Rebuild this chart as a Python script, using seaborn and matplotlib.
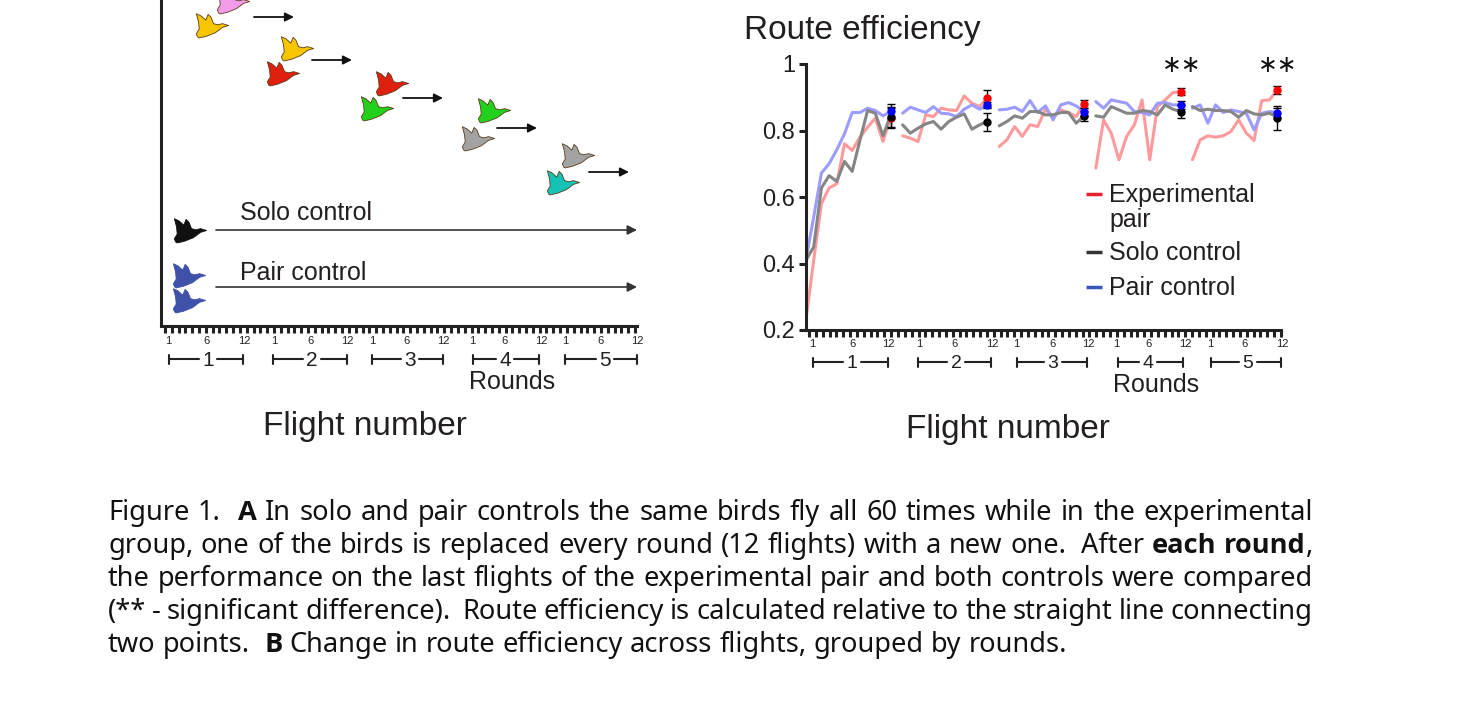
import numpy as np
import pandas as pd
import matplotlib
matplotlib.use("Agg")
import matplotlib.pyplot as plt
import seaborn as sns
from matplotlib.path import Path
from matplotlib.markers import MarkerStyle
from matplotlib import font_manager as fm

# ---------------- data ----------------
flights = list(range(1, 13))
rounds = [1, 2, 3, 4, 5]
groups = ["Experimental pair", "Solo control", "Pair control"]

exp_r1 = [0.232, 0.41, 0.58, 0.627, 0.64, 0.76, 0.74, 0.78, 0.81, 0.837, 0.767, 0.84]
exp_r2 = [0.784, 0.777, 0.767, 0.847, 0.842, 0.867, 0.862, 0.86, 0.904, 0.882, 0.872, 0.897]
exp_r3 = [0.752, 0.772, 0.812, 0.782, 0.817, 0.812, 0.864, 0.842, 0.862, 0.854, 0.842, 0.88]
exp_r4 = [0.687, 0.832, 0.792, 0.712, 0.782, 0.817, 0.892, 0.712, 0.872, 0.892, 0.914, 0.917]
exp_r5 = [0.712, 0.772, 0.784, 0.78, 0.784, 0.797, 0.832, 0.792, 0.77, 0.89, 0.892, 0.922]

solo_r1 = [0.41, 0.45, 0.627, 0.664, 0.647, 0.707, 0.677, 0.77, 0.86, 0.852, 0.784, 0.847]
solo_r2 = [0.817, 0.792, 0.807, 0.82, 0.827, 0.804, 0.827, 0.84, 0.85, 0.804, 0.817, 0.827]
solo_r3 = [0.814, 0.827, 0.844, 0.837, 0.857, 0.857, 0.847, 0.847, 0.854, 0.854, 0.822, 0.844]
solo_r4 = [0.844, 0.84, 0.872, 0.862, 0.852, 0.852, 0.86, 0.857, 0.847, 0.877, 0.864, 0.857]
solo_r5 = [0.872, 0.86, 0.864, 0.86, 0.86, 0.857, 0.84, 0.86, 0.85, 0.847, 0.852, 0.84]

pair_r1 = [0.412, 0.54, 0.672, 0.70, 0.742, 0.79, 0.854, 0.854, 0.867, 0.86, 0.844, 0.857]
pair_r2 = [0.852, 0.87, 0.862, 0.854, 0.872, 0.852, 0.85, 0.842, 0.864, 0.877, 0.864, 0.877]
pair_r3 = [0.862, 0.864, 0.87, 0.857, 0.89, 0.854, 0.874, 0.832, 0.877, 0.884, 0.874, 0.857]
pair_r4 = [0.887, 0.867, 0.892, 0.887, 0.882, 0.857, 0.854, 0.847, 0.882, 0.884, 0.877, 0.877]
pair_r5 = [0.867, 0.877, 0.822, 0.877, 0.854, 0.862, 0.857, 0.852, 0.802, 0.852, 0.857, 0.854]

# end-of-round comparison (mean +- error)
exp_end = [0.838, 0.897, 0.88, 0.917, 0.922]
solo_end = [0.842, 0.827, 0.844, 0.857, 0.838]
pair_end = [0.859, 0.877, 0.857, 0.877, 0.854]
exp_err = [0.03, 0.025, 0.012, 0.01, 0.012]
solo_err = [0.03, 0.027, 0.015, 0.02, 0.035]
pair_err = [0.02, 0.01, 0.012, 0.012, 0.015]
signif = [False, False, False, True, True]

legend_labels = ["Experimental\npair", "Solo control", "Pair control"]
flight_tick_labels = ["1", "6", "12"]

# schematic (panel A): bird icons
bird_colors = ["#f29be8", "#f7c600", "#f7c600", "#e0200f", "#e0200f", "#22d11b",
               "#22d11b", "#a3a3a3", "#a3a3a3", "#14c2b8", "#111111", "#3f51a8", "#3f51a8"]

# ---------------- layout ----------------
W, H, DPI = 1460, 702, 100
ROUND_STEP = 12.55          # x offset between rounds (flight units)
TXT = "#231f20"
sns.set_style("ticks")
plt.rcParams["font.family"] = ["Liberation Sans", "DejaVu Sans"]

fig = plt.figure(figsize=(W / DPI, H / DPI), dpi=DPI)

def frac_rect(x0, y0, x1, y1):
    return [x0 / W, 1 - y1 / H, (x1 - x0) / W, (y1 - y0) / H]

# ---------------- panel B: route efficiency ----------------
series = {"Experimental pair": [exp_r1, exp_r2, exp_r3, exp_r4, exp_r5],
          "Solo control": [solo_r1, solo_r2, solo_r3, solo_r4, solo_r5],
          "Pair control": [pair_r1, pair_r2, pair_r3, pair_r4, pair_r5]}
rows = []
for g in groups:
    for r, vals in zip(rounds, series[g]):
        for f, v in zip(flights, vals):
            rows.append({"group": g, "round": r, "flight": f,
                         "x": (r - 1) * ROUND_STEP + (f - 1), "v": v})
df = pd.DataFrame(rows)

ax = fig.add_axes(frac_rect(806, 64, 1281, 330))
line_pal = {"Experimental pair": "#ff9a9c", "Solo control": "#858585", "Pair control": "#9c9cff"}
for g in ["Experimental pair", "Pair control", "Solo control"]:
    sns.lineplot(data=df[df.group == g], x="x", y="v", units="round", estimator=None,
                 color=line_pal[g], lw=2.2, legend=False, ax=ax)

end_x = [(r - 1) * ROUND_STEP + 11 for r in rounds]
for vals, errs, col in [(exp_end, exp_err, "#ff0000"), (solo_end, solo_err, "#000000"),
                        (pair_end, pair_err, "#0000ff")]:
    ax.errorbar(end_x, vals, yerr=errs, fmt="o", color=col, ms=5, ecolor="black",
                elinewidth=1.0, capsize=3, capthick=1.0, zorder=5)
for xx, s in zip(end_x, signif):
    if s:
        ax.text(xx + 0.1, 0.997, "\u2217\u2217", ha="center", va="center", fontsize=17,
                family="DejaVu Sans", color="#111111", clip_on=False)

ax.set_xlim(0, 61.7)
ax.set_ylim(0.2, 1.0)
ax.set_yticks([0.2, 0.4, 0.6, 0.8, 1.0])
ax.set_yticklabels(["0.2", "0.4", "0.6", "0.8", "1"])
ax.set_xticks(np.linspace(0.4, 61.7, 70))
ax.set_xticklabels([])
ax.set_xlabel("")
ax.set_ylabel("")
for sp in ["top", "right"]:
    ax.spines[sp].set_visible(False)
for sp in ["left", "bottom"]:
    ax.spines[sp].set_linewidth(2.2)
    ax.spines[sp].set_color("#222222")
ax.tick_params(axis="y", length=5, width=2.2, labelsize=17, colors="#222222",
               labelcolor=TXT, pad=3)
ax.tick_params(axis="x", length=5, width=2.2, colors="#222222")
ax.patch.set_alpha(0)

# ---------------- panel A: schematic ----------------
axl = fig.add_axes(frac_rect(161, -10, 637, 326))
axl.set_xlim(161, 637)
axl.set_ylim(326, -10)
for sp in ["top", "right"]:
    axl.spines[sp].set_visible(False)
for sp in ["left", "bottom"]:
    axl.spines[sp].set_linewidth(2.2)
    axl.spines[sp].set_color("#222222")
axl.set_yticks([])
axl.set_xticks(np.linspace(165, 635, 70))
axl.set_xticklabels([])
axl.tick_params(axis="x", length=5, width=2.2, colors="#222222")
axl.patch.set_alpha(0)

bird_verts = [(-0.89, -0.68), (-0.96, -0.49), (-0.79, -0.21), (-0.83, 0.21), (-0.96, 0.70),
              (-0.68, 0.57), (-0.40, 0.32), (-0.26, 0.66), (-0.09, 0.49), (0.06, 0.11),
              (0.32, 0.04), (0.60, 0.11), (0.96, 0.0), (0.60, -0.11), (0.17, -0.43),
              (-0.36, -0.64), (-0.79, -0.74), (-0.89, -0.68)]
bird_marker = MarkerStyle(Path(bird_verts, closed=True))
bird_x = [233, 212, 297, 283, 392, 377, 494, 478, 578, 563, 190, 189, 189]
bird_y = [1, 25, 48, 73, 83, 108, 110, 138, 155, 182, 230, 275, 300]
for bx, by, bc in zip(bird_x, bird_y, bird_colors):
    axl.scatter([bx], [by], s=540, marker=bird_marker, color=bc,
                edgecolor="#5a3a1a" if bc not in ("#111111", "#3f51a8") else bc,
                linewidth=0.6, zorder=3, clip_on=False)

short_arrow_x = [254, 312, 403, 497, 589]
short_arrow_y = [17, 60, 98, 128, 172]
for x0, y0 in zip(short_arrow_x, short_arrow_y):
    axl.annotate("", xy=(x0 + 40, y0), xytext=(x0, y0),
                 arrowprops=dict(arrowstyle="-|>", color="#111111", lw=1.3,
                                 mutation_scale=13, shrinkA=0, shrinkB=0))
for yy, lab, ty in [(230, "Solo control", 220), (287, "Pair control", 280)]:
    axl.annotate("", xy=(637, yy), xytext=(216, yy),
                 arrowprops=dict(arrowstyle="-|>", color="#333333", lw=1.2,
                                 mutation_scale=14, shrinkA=0, shrinkB=0),
                 annotation_clip=False)
    axl.text(240, ty, lab, fontsize=18, color=TXT, va="baseline", ha="left")

# ---------------- overlay for annotations ----------------
ov = fig.add_axes([0, 0, 1, 1], zorder=10)
ov.set_xlim(0, W)
ov.set_ylim(H, 0)
ov.axis("off")
ov.patch.set_alpha(0)

# title
ov.text(744, 39, "Route efficiency", fontsize=24, color=TXT, va="baseline", ha="left")

# manual legend
leg_cols = ["#e8202a", "#333333", "#3a55b8"]
leg_y = [194, 252, 287]
for lab, col, yy in zip(legend_labels, leg_cols, leg_y):
    ov.plot([1086, 1102], [yy, yy], color=col, lw=2.5, solid_capstyle="butt")
lab_lines = [("Experimental", 202), ("pair", 227), ("Solo control", 260), ("Pair control", 295)]
for t, yb in lab_lines:
    ov.text(1109, yb, t, fontsize=18, color=TXT, va="baseline", ha="left")

# flight-number tick labels and round brackets
left_tick_x = [[168, 207, 244], [274, 311, 347], [372, 407, 443], [472, 504, 541], [565, 601, 637]]
right_tick_x = [[812, 852, 888], [919, 955, 992], [1016, 1052, 1088], [1116, 1148, 1185], [1210, 1245, 1282]]
left_br = [(169, 243, 208), (273, 347, 312), (372, 443, 410), (473, 539, 505), (565, 637, 605)]
right_br = [(813, 888, 852), (918, 991, 956), (1017, 1087, 1053), (1118, 1183, 1148), (1211, 1281, 1248)]

def brackets(tick_xs, brs, tick_base, br_y, num_size):
    for r, xs, (b0, b1, bl) in zip(rounds, tick_xs, brs):
        for xx, lab in zip(xs, flight_tick_labels):
            ov.text(xx, tick_base, lab, fontsize=8, color=TXT, ha="center", va="baseline")
        g = 9
        for s0, s1 in [(b0, bl - g), (bl + g, b1)]:
            ov.plot([s0, s1], [br_y, br_y], color="#222222", lw=1.5)
        for cx in (b0, b1):
            ov.plot([cx, cx], [br_y - 4.5, br_y + 4.5], color="#222222", lw=1.5)
        ov.text(bl, br_y, str(r), fontsize=num_size, color=TXT, ha="center", va="center_baseline")

brackets(left_tick_x, left_br, 344, 359, 15)
brackets(right_tick_x, right_br, 347, 362, 14)

ov.text(512, 389, "Rounds", fontsize=18, color=TXT, ha="center", va="baseline")
ov.text(1156, 392, "Rounds", fontsize=18, color=TXT, ha="center", va="baseline")
ov.text(365, 435, "Flight number", fontsize=24, color=TXT, ha="center", va="baseline")
ov.text(1008, 438, "Flight number", fontsize=24, color=TXT, ha="center", va="baseline")

# ---------------- caption ----------------
caption_lines = [
    ("Figure 1.  |A| In solo and pair controls the same birds fly all 60 times while in the experimental", True),
    ("group, one of the birds is replaced every round (12 flights) with a new one.  After |each round|,", True),
    ("the performance on the last flights of the experimental pair and both controls were compared", True),
    ("(** - significant difference).  Route efficiency is calculated relative to the straight line connecting", True),
    ("two points.  |B| Change in route efficiency across flights, grouped by rounds.", False),
]

def bold_path(fam):
    try:
        p = fm.findfont(fm.FontProperties(family=fam, weight="bold"), fallback_to_default=False)
        return p if "bold" in p.lower() else None
    except Exception:
        return None

CAP_FONT = ["Noto Sans", "DejaVu Sans"]
BOLD_PROPS = None
for fam in ["Noto Sans", "Open Sans", "Lato", "DejaVu Sans"]:
    bp = bold_path(fam)
    if bp:
        BOLD_PROPS = fm.FontProperties(fname=bp)
        break
CAP_SIZE = 19.6
renderer = fig.canvas.get_renderer()

def make_text(x, y, txt, bold, **kw):
    if bold and BOLD_PROPS is not None:
        fp = BOLD_PROPS.copy()
        fp.set_size(CAP_SIZE)
        return ov.text(x, y, txt, fontproperties=fp, **kw)
    return ov.text(x, y, txt, fontsize=CAP_SIZE, family=CAP_FONT,
                   fontweight="bold" if bold else "normal", **kw)

def measure(txt, bold):
    t = make_text(0, 0, txt, bold)
    w = t.get_window_extent(renderer=renderer).width
    t.remove()
    return w

space_w = measure("n n", False) - measure("nn", False)

def draw_caption_line(s, yb, justify, x0=108, x1=1313):
    tokens = s.split(" ")
    words = []
    bold = False
    gap = 0
    for tok in tokens:
        if tok == "":
            gap += 1
            continue
        pieces = []
        parts = tok.split("|")
        for i, p in enumerate(parts):
            if i > 0:
                bold = not bold
            if p:
                pieces.append((p, bold))
        words.append((pieces, gap + 1 if words else 0))
        gap = 0
    widths = [[measure(p, b) for p, b in pcs] for pcs, _ in words]
    natural = sum(sum(w) for w in widths) + sum(g for _, g in words) * space_w
    units = sum(g for _, g in words)
    extra = (x1 - x0 - natural) / units if (justify and units) else 0
    x = x0
    for (pcs, g), ws in zip(words, widths):
        x += g * (space_w + extra)
        for (p, b), w in zip(pcs, ws):
            make_text(x, yb, p, b, color="#111111", va="baseline", ha="left")
            x += w

for i, (s, just) in enumerate(caption_lines):
    draw_caption_line(s, 520 + 33 * i, just)

fig.savefig("out.png", dpi=DPI)
